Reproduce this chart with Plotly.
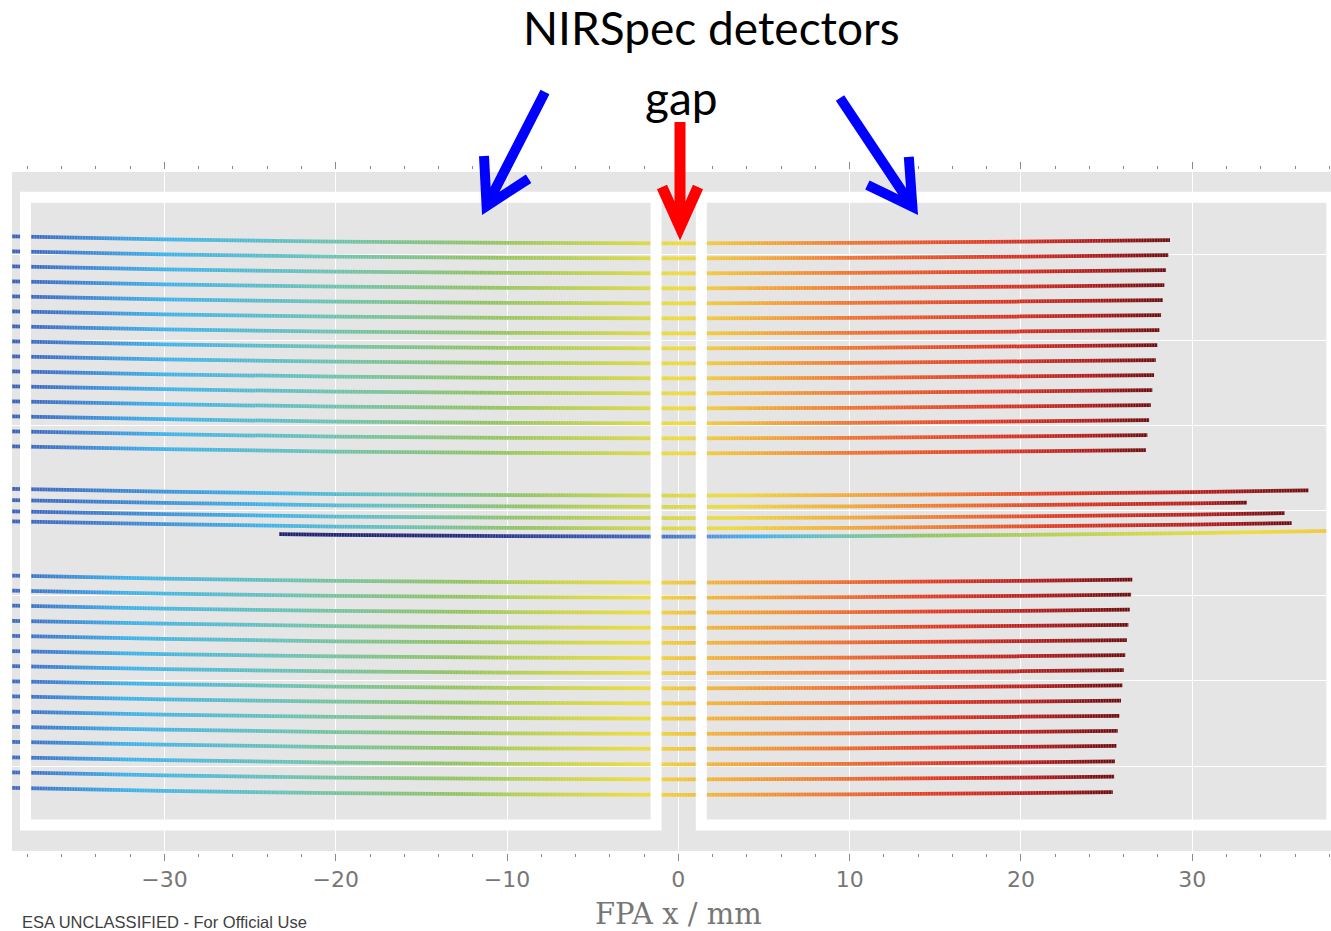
import numpy as np
import plotly.graph_objects as go

# ---------------- data (FPA coordinates, mm) ----------------
# y of each spectral trace at its left end (x ~ -38 mm, where the bow is ~0)
TOP_Y0 = [16.07, 15.19, 14.31, 13.43, 12.55, 11.67, 10.79, 9.91, 9.03, 8.15,
          7.27, 6.39, 5.51, 4.63, 3.75]
TOP_X_END = [28.70, 28.60, 28.47, 28.37, 28.28, 28.18, 28.08, 27.96, 27.87, 27.77,
             27.67, 27.58, 27.48, 27.38, 27.29]
MID_Y0 = [1.26, 0.60, -0.06, -0.65]
MID_X_END = [36.78, 33.19, 35.39, 35.80]
BOT_Y0 = [-3.84, -4.72, -5.60, -6.49, -7.38, -8.27, -9.15, -10.04, -10.93, -11.82,
          -12.71, -13.59, -14.50, -15.39, -16.30]
BOT_X_END = [26.50, 26.43, 26.35, 26.27, 26.18, 26.09, 26.00, 25.92, 25.84, 25.74,
             25.65, 25.57, 25.49, 25.44, 25.36]
LONG_Y0 = -1.14
LONG_X_START = -23.31
LONG_X_END = 40.0
TRACE_X_START = -40.0          # traces continue beyond the left edge

# common curvature (bow) of every trace, dy (mm) versus x (mm)
BOW_X = [-40, -30, -20, -10, 0, 10, 20, 30, 40]
BOW_DY = [0.04, -0.15, -0.29, -0.36, -0.39, -0.36, -0.28, -0.18, -0.02]

# wavelength colour palette and where each colour sits along x for each group
SPECTRUM = ['#1c1f6e', '#3b66c2', '#38b2ec', '#66c2b6', '#8fc45e', '#c8d545',
            '#efdc36', '#f5a731', '#f1702a', '#e2361f', '#b3191a', '#6c0a0c']
TOP_COLOR_X = [-46, -38, -30, -21, -11, -4, 0, 5, 10, 18, 24, None]
MID_COLOR_X = [-46, -38, -24, -16, -9, -3, 3, 10, 16, 22, 31, None]
BOT_COLOR_X = [-48, -39, -32, -23, -13, -7, -2, 3, 9, 15, 21, None]
LONG_COLORS = ['#1c1f6e', '#20287e', '#3b66c2', '#4f93dc', '#38b2ec', '#66c2b6',
               '#8fc45e', '#c8d545', '#efdc36', '#f5a731']
LONG_COLOR_X = [-23.31, -13, -1.6, 2, 4.5, 9, 14.5, 25.5, 33.7, 44]

# ---------------- style ----------------
W, H = 1331, 931
ML, MR, MT, MB = 12, 0, 172, 80
X_RANGE = [-38.9, 38.1]
Y_RANGE = [-19.98, 19.87]
HALF_THICK = 0.11   # half height of a trace band (mm ~ 1.9 px)
GRAY = '#e5e5e5'


def pxx(xpix):
    return (xpix - ML) / (W - ML - MR)


def pxy(ypix):
    return (H - MB - ypix) / (H - MT - MB)


def trace_path(y0, x0, x1):
    xs = [x0] + [bx for bx in BOW_X if x0 < bx < x1] + [x1]
    ys = y0 + np.interp(xs, BOW_X, BOW_DY)
    return np.array(xs, dtype=float), ys


def band_trace(y0, x0, x1, color_x, colors):
    xs, ys = trace_path(y0, x0, x1)
    px_ = list(xs) + list(xs[::-1]) + [xs[0]]
    py_ = list(ys + HALF_THICK) + list((ys - HALF_THICK)[::-1]) + [ys[0] + HALF_THICK]
    c0, c1 = color_x[0], color_x[-1]
    cs = [[(cx - c0) / (c1 - c0), c] for cx, c in zip(color_x, colors)]
    return go.Scatter(x=px_, y=py_, mode='none', fill='toself',
                      fillgradient=dict(type='horizontal', colorscale=cs, start=c0, stop=c1),
                      hoverinfo='skip', showlegend=False)


def bead_trace(y0, x0, x1):
    # thin gaps between the plotted sample dots
    xs, ys = trace_path(y0, x0, x1)
    return go.Scatter(x=xs, y=ys, mode='lines', opacity=0.3,
                      line=dict(color=GRAY, width=4, dash='0.9px,1.8px'),
                      hoverinfo='skip', showlegend=False)


specs = []
for y0, xe in zip(TOP_Y0, TOP_X_END):
    specs.append((y0, TRACE_X_START, xe, TOP_COLOR_X[:-1] + [xe], SPECTRUM))
for y0, xe in zip(MID_Y0, MID_X_END):
    specs.append((y0, TRACE_X_START, xe, MID_COLOR_X[:-1] + [xe], SPECTRUM))
specs.append((LONG_Y0, LONG_X_START, LONG_X_END, LONG_COLOR_X, LONG_COLORS))
for y0, xe in zip(BOT_Y0, BOT_X_END):
    specs.append((y0, TRACE_X_START, xe, BOT_COLOR_X[:-1] + [xe], SPECTRUM))

fig = go.Figure()
for s in specs:
    fig.add_trace(band_trace(*s))
for s in specs:
    fig.add_trace(bead_trace(s[0], s[1], s[2]))

shapes = []
# detector outlines (drawn above the traces)
for (x0, x1) in [(-38.11, -1.30), (1.34, 38.15)]:
    shapes.append(dict(type='rect', xref='x', yref='y', x0=x0, x1=x1, y0=-18.45, y1=18.39,
                       line=dict(color='white', width=11), layer='above'))


def arrow(tail, tip, arm1, arm2, color, width):
    path = (f"M {pxx(tail[0])},{pxy(tail[1])} L {pxx(tip[0])},{pxy(tip[1])} "
            f"M {pxx(arm1[0])},{pxy(arm1[1])} L {pxx(tip[0])},{pxy(tip[1])} "
            f"L {pxx(arm2[0])},{pxy(arm2[1])}")
    return dict(type='path', xref='paper', yref='paper', path=path,
                line=dict(color=color, width=width), layer='above')


shapes.append(arrow((545, 92), (486.6, 206), (484, 156), (528.6, 178.8), '#0000ff', 10))
shapes.append(arrow((840, 98), (912.4, 206.7), (908.8, 156.9), (867.4, 185), '#0000ff', 10))
shapes.append(arrow((680, 122), (680, 227), (662, 187), (698, 187), '#ff0000', 11))

annotations = [
    dict(text='NIRSpec detectors', x=pxx(711), y=pxy(27), xref='paper', yref='paper',
         showarrow=False, xanchor='center', yanchor='middle',
         font=dict(family='Lato', size=46, color='black')),
    dict(text='gap', x=pxx(681), y=pxy(98), xref='paper', yref='paper',
         showarrow=False, xanchor='center', yanchor='middle',
         font=dict(family='Lato', size=46, color='black')),
    dict(text='FPA x / mm', x=pxx(678), y=pxy(914), xref='paper', yref='paper',
         showarrow=False, xanchor='center', yanchor='middle',
         font=dict(family='DejaVu Serif', size=29, color='#777777')),
    dict(text='ESA UNCLASSIFIED - For Official Use', x=pxx(20), y=pxy(911),
         xref='paper', yref='paper', showarrow=False, xanchor='left', yanchor='top',
         font=dict(family='Liberation Sans', size=16.5, color='#404040')),
]

fig.update_layout(
    template='none', width=W, height=H,
    margin=dict(l=ML, r=MR, t=MT, b=MB, pad=0),
    paper_bgcolor='white', plot_bgcolor=GRAY,
    shapes=shapes, annotations=annotations, showlegend=False,
    xaxis=dict(range=X_RANGE, tick0=0, dtick=10, showgrid=True, gridcolor='white',
               gridwidth=1.3, zeroline=False, showline=True, linecolor='white',
               linewidth=3, mirror='ticks', ticks='outside', ticklen=7, tickwidth=1.2,
               tickcolor='#8a8a8a', automargin=False,
               tickfont=dict(family='DejaVu Sans', size=22, color='#777777'),
               minor=dict(dtick=2, ticks='outside', ticklen=3, tickwidth=1.2,
                          tickcolor='#8a8a8a', showgrid=False)),
    yaxis=dict(range=Y_RANGE, tick0=0, dtick=5, showgrid=True, gridcolor='white',
               gridwidth=1.3, zeroline=False, showticklabels=False, ticks='',
               showline=False, automargin=False),
)

fig.write_html('out.html')
